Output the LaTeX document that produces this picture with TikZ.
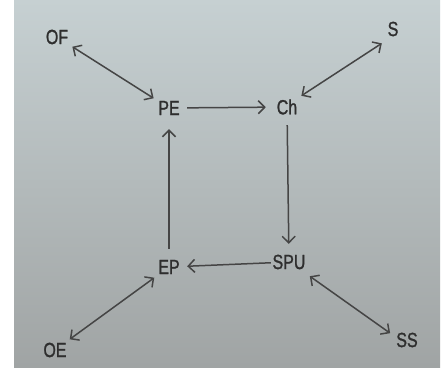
\documentclass[tikz,border=0pt]{standalone}
\usepackage{fontspec}
\setmainfont{Liberation Sans}[FakeStretch=0.78,FakeBold=1.2]
\usetikzlibrary{arrows.meta}
\definecolor{bgtop}{HTML}{C6D0D2}
\definecolor{bgbot}{HTML}{A0A4A4}
\definecolor{ink}{HTML}{2E2E2E}
\definecolor{linec}{HTML}{454545}
\begin{document}
\begin{tikzpicture}[x=1pt,y=-1pt,
  lbl/.style={circle,minimum size=36pt,inner sep=0pt,text=ink,font=\fontsize{20.5}{20.5}\selectfont},
  conn/.style={draw=linec,line width=1.5pt,-{Straight Barb[length=6.5pt,width=13pt]}},
  dconn/.style={draw=linec,line width=1.5pt,{Straight Barb[length=6.5pt,width=13pt]}-{Straight Barb[length=6.5pt,width=13pt]}}]
\useasboundingbox (0,0) rectangle (442,369);
\fill[white] (0,0) rectangle (442,369);
\shade[top color=bgtop,bottom color=bgbot] (14,0) rectangle (440,367);
\node[lbl] (OF) at (57,37) {OF};
\node[lbl] (S) at (393,29) {S};
\node[lbl] (PE) at (169,108) {PE};
\node[lbl] (Ch) at (287,107) {Ch};
\node[lbl] (EP) at (169,267) {EP};
\node[lbl] (SPU) at (289,262) {SPU};
\node[lbl] (OE) at (55,350) {OE};
\node[lbl] (SS) at (407,340) {SS};
\draw[dconn] (OF) -- (PE);
\draw[dconn] (Ch.38) -- (S.232);
\draw[conn,shorten >=3pt] (PE) -- (Ch);
\draw[conn] (Ch) -- (SPU);
\draw[conn] (SPU) -- (EP);
\draw[conn,shorten >=3pt] (EP) -- (PE);
\draw[dconn] (OE) -- (EP);
\draw[dconn,shorten <=7pt] (SPU.-34) -- (SS.158);
\end{tikzpicture}
\end{document}
